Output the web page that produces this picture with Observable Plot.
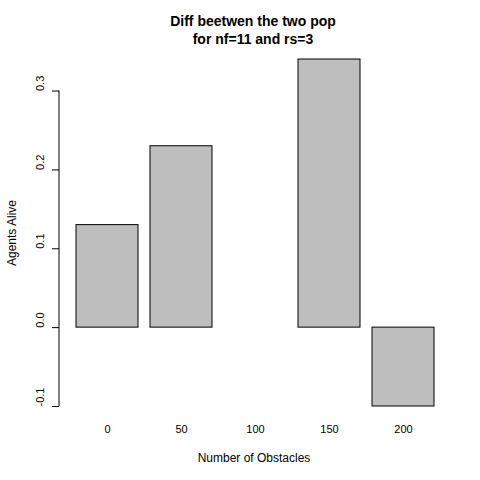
<!DOCTYPE html>
<html><head><meta charset="utf-8">
<script src="https://cdn.jsdelivr.net/npm/d3@7"></script>
<script src="https://cdn.jsdelivr.net/npm/@observablehq/plot@0.6"></script>
<style>body{margin:0;background:#fff}</style>
</head><body><div id="chart"></div>
<script>
const obstacles = ['0', '50', '100', '150', '200']
const diffs = [0.13, 0.23, 0.0, 0.34, -0.1]
const yTicks = [-0.1, 0, 0.1, 0.2, 0.3]

const data = obstacles.map((o, i) => ({ o, v: diffs[i] }))
const font = 'Liberation Sans, Arial, sans-serif'

const chart = Plot.plot({
  width: 480, height: 480,
  marginLeft: 59, marginRight: 45, marginTop: 59, marginBottom: 74,
  style: { fontFamily: font, fontSize: '12px', background: '#fff', color: '#000' },
  x: { domain: obstacles, range: [74, 435], paddingInner: 0.2 / 1.2, paddingOuter: 0, label: null },
  y: { domain: [-0.1, 0.34], label: null },
  marks: [
    Plot.barY(data, { x: 'o', y: 'v', fill: '#bebebe', stroke: '#000', strokeWidth: 1 }),
    Plot.axisX({ tickSize: 0, tickPadding: 19, fontSize: 11 }),
    Plot.axisY(yTicks, { tickSize: 7, tickFormat: () => '', anchor: 'left' }),
    Plot.text(yTicks, { y: d => d, text: d => d.toFixed(1), frameAnchor: 'left', dx: -19, rotate: -90, fontSize: 11 })
  ]
})

const svg = d3.select(chart)
const y = chart.scale('y')
svg.append('line').attr('x1', 59).attr('x2', 59)
  .attr('y1', y.apply(0.3)).attr('y2', y.apply(-0.1)).attr('stroke', '#000')
svg.append('text').attr('x', 253).attr('y', 26).attr('text-anchor', 'middle')
  .attr('font-weight', 'bold').attr('font-size', 14).attr('font-family', font).text('Diff beetwen the two pop')
svg.append('text').attr('x', 253).attr('y', 44).attr('text-anchor', 'middle')
  .attr('font-weight', 'bold').attr('font-size', 14).attr('font-family', font).text('for nf=11 and rs=3')
svg.append('text').attr('x', 254).attr('y', 462).attr('text-anchor', 'middle')
  .attr('font-size', 12).attr('font-family', font).text('Number of Obstacles')
svg.append('text').attr('transform', 'translate(16,233) rotate(-90)').attr('text-anchor', 'middle')
  .attr('font-size', 12).attr('font-family', font).text('Agents Alive')

d3.select('#chart').append(() => chart)
</script></body></html>
